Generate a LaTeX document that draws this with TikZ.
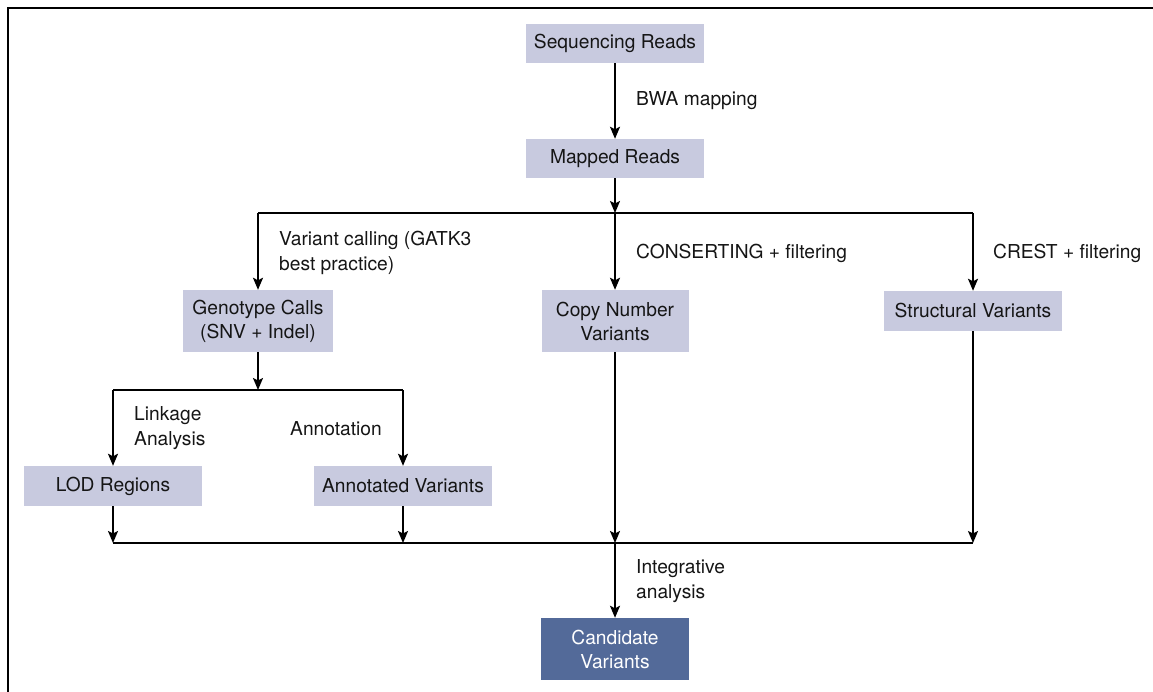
\documentclass[tikz,border=0pt]{standalone}
\usepackage{fontspec}
\setmainfont{TeX Gyre Heros}
\usetikzlibrary{arrows.meta}
\definecolor{boxlight}{HTML}{C8CADF}
\definecolor{boxdark}{HTML}{536A99}
\definecolor{txt}{HTML}{151515}
\tikzset{
  lbox/.style={fill=boxlight, text=txt, inner sep=0pt, align=center, font=\fontsize{19.2}{24}\selectfont},
  dbox/.style={fill=boxdark, text=white, inner sep=0pt, align=center, font=\fontsize{19.2}{24}\selectfont},
  lbl/.style={text=txt, inner sep=0pt, anchor=west, align=left, font=\fontsize{19.2}{25}\selectfont},
  conn/.style={line width=1.8pt, draw=black},
  arr/.style={conn, -{Stealth[length=12pt,width=10pt,inset=2.5pt]}},
}
\begin{document}
\begin{tikzpicture}[x=1pt,y=-1pt]
\useasboundingbox (0,0) rectangle (1153,692);
\begin{scope}
\clip (0,0) rectangle (1153,692);
\draw[line width=2.4pt] (8,8) rectangle (1170,710);
\end{scope}
% nodes
\node[lbox, minimum width=178pt, minimum height=39pt] (seq) at (615,43.5) {Sequencing Reads};
\node[lbox, minimum width=178pt, minimum height=39pt] (mapped) at (615,158.5) {Mapped Reads};
\node[lbox, minimum width=150pt, minimum height=62pt] (geno) at (258,321) {Genotype Calls\\(SNV + Indel)};
\node[lbox, minimum width=147pt, minimum height=62pt] (cnv) at (615,321) {Copy Number\\Variants};
\node[lbox, minimum width=178pt, minimum height=40pt] (sv) at (973,311) {Structural Variants};
\node[lbox, minimum width=178pt, minimum height=40pt] (lod) at (113,486) {LOD Regions};
\node[lbox, minimum width=178pt, minimum height=40pt] (annot) at (403,486) {Annotated Variants};
\node[dbox, minimum width=148pt, minimum height=62pt] (cand) at (615,649) {Candidate\\Variants};
% junction coordinates
\coordinate (j1) at (615,213);
\coordinate (j1l) at (258,213);
\coordinate (j1r) at (973,213);
\coordinate (j2) at (258,390);
\coordinate (j2l) at (113,390);
\coordinate (j2r) at (403,390);
\coordinate (m) at (615,543);
\coordinate (ml) at (113,543);
\coordinate (mr) at (973,543);
\coordinate (ma) at (403,543);
% connectors
\draw[arr] (seq) -- (mapped);
\draw[arr] (mapped) -- (j1);
\draw[conn] (j1l) -- (j1r);
\draw[arr] (j1l) -- (geno);
\draw[arr] (j1) -- (cnv);
\draw[arr] (j1r) -- (sv);
\draw[arr] (geno) -- (j2);
\draw[conn] (j2l) -- (j2r);
\draw[arr] (j2l) -- (lod);
\draw[arr] (j2r) -- (annot);
\draw[arr] (lod) -- (ml);
\draw[arr] (annot) -- (ma);
\draw[arr] (cnv) -- (m);
\draw[arr] (sv) -- (mr);
\draw[conn] (ml) -- (mr);
\draw[arr] (m) -- (cand);
% labels
\node[lbl] (l1) at (636,101) {BWA mapping};
\node[lbl] (l2) at (279,252.5) {Variant calling (GATK3\\best practice)};
\node[lbl] (l3) at (636,253) {CONSERTING + filtering};
\node[lbl] (l4) at (993,253) {CREST + filtering};
\node[lbl] (l5) at (134,428.5) {Linkage\\Analysis};
\node[lbl] (l6) at (290,429) {Annotation};
\node[lbl] (l7) at (636,581.5) {Integrative\\analysis};
\end{tikzpicture}
\end{document}
